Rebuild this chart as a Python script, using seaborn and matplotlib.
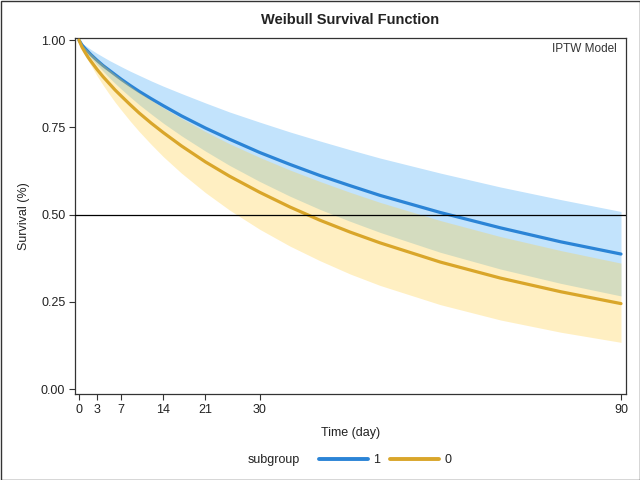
import matplotlib
matplotlib.use("Agg")
import matplotlib.pyplot as plt
import seaborn as sns
import pandas as pd
from matplotlib.lines import Line2D
from matplotlib.patches import Rectangle

# ---- data ----
times = [0, 0.5, 1, 1.5, 2, 3, 4, 5, 6, 7, 8.5, 10, 12, 14, 17, 21, 25, 30, 35, 40, 45, 50, 60, 70, 80, 90]
s1 = [1.000, 0.986, 0.976, 0.967, 0.958, 0.942, 0.927, 0.914, 0.901, 0.888, 0.870, 0.853, 0.832,
      0.812, 0.783, 0.748, 0.716, 0.678, 0.644, 0.612, 0.583, 0.555, 0.506, 0.462, 0.422, 0.387]
s1_lo = [1.000, 0.984, 0.972, 0.960, 0.949, 0.929, 0.911, 0.893, 0.876, 0.860, 0.837, 0.815, 0.788,
         0.762, 0.726, 0.682, 0.641, 0.595, 0.553, 0.515, 0.481, 0.449, 0.392, 0.344, 0.303, 0.267]
s1_hi = [1.000, 0.991, 0.985, 0.979, 0.973, 0.962, 0.952, 0.942, 0.933, 0.924, 0.911, 0.899, 0.883,
         0.868, 0.847, 0.820, 0.794, 0.765, 0.737, 0.711, 0.686, 0.662, 0.619, 0.579, 0.543, 0.509]
s0 = [1.000, 0.980, 0.965, 0.951, 0.939, 0.916, 0.895, 0.876, 0.857, 0.840, 0.815, 0.791, 0.762,
      0.735, 0.697, 0.651, 0.610, 0.564, 0.522, 0.484, 0.450, 0.419, 0.364, 0.318, 0.279, 0.245]
s0_lo = [1.000, 0.977, 0.959, 0.942, 0.927, 0.898, 0.871, 0.846, 0.822, 0.800, 0.768, 0.738, 0.701,
         0.666, 0.619, 0.563, 0.513, 0.458, 0.410, 0.368, 0.330, 0.297, 0.242, 0.198, 0.163, 0.134]
s0_hi = [1.000, 0.987, 0.978, 0.970, 0.961, 0.945, 0.930, 0.916, 0.902, 0.889, 0.869, 0.850, 0.828,
         0.806, 0.776, 0.738, 0.703, 0.664, 0.628, 0.595, 0.564, 0.535, 0.483, 0.437, 0.397, 0.361]

groups = ["1", "0"]
x_ticks = [0, 3, 7, 14, 21, 30, 90]
y_ticks = [0.00, 0.25, 0.50, 0.75, 1.00]
y_tick_labels = ["0.00", "0.25", "0.50", "0.75", "1.00"]
title = "Weibull Survival Function"
inset_text = "IPTW Model"
x_label = "Time (day)"
y_label = "Survival (%)"
legend_title = "subgroup"

df = pd.concat([
    pd.DataFrame({"time": times, "surv": s1, "lo": s1_lo, "hi": s1_hi, "subgroup": "1"}),
    pd.DataFrame({"time": times, "surv": s0, "lo": s0_lo, "hi": s0_hi, "subgroup": "0"}),
], ignore_index=True)

sns.set_style("ticks")
plt.rcParams["font.family"] = ["Liberation Sans", "DejaVu Sans"]

line_colors = {"1": "#2B84D6", "0": "#D9A62A"}
band_style = {"1": dict(color="#C2E3FC", alpha=1.0), "0": dict(color="#FFCE3A", alpha=0.31)}

fig = plt.figure(figsize=(6.4, 4.8), dpi=100)
ax = fig.add_axes([75 / 640, 1 - 394 / 480, 551 / 640, 356 / 480])

for g in groups:
    sub = df[df["subgroup"] == g]
    ax.fill_between(sub["time"], sub["lo"], sub["hi"], linewidth=0, zorder=1 if g == "1" else 3,
                    **band_style[g])
    sns.lineplot(data=sub, x="time", y="surv", color=line_colors[g], linewidth=2.3,
                 ax=ax, legend=False, zorder=2 if g == "1" else 4)

ax.axhline(0.5, color="black", linewidth=0.9, zorder=5)

ax.set_xlim(-0.66, 90.83)
ax.set_ylim(-0.014, 1.006)
ax.set_xticks(x_ticks)
ax.set_yticks(y_ticks)
ax.set_yticklabels(y_tick_labels)
ax.tick_params(axis="both", direction="out", length=4.5, width=0.8, color="#333333",
               labelsize=9, labelcolor="#222222", pad=2.5)
for sp in ax.spines.values():
    sp.set_color("#333333")
    sp.set_linewidth(0.9)

ax.set_xlabel(x_label, fontsize=9, color="#222222", labelpad=8)
ax.set_ylabel(y_label, fontsize=9, color="#222222", labelpad=8)

ax.text(0.984, 0.969, inset_text, transform=ax.transAxes, ha="right", va="center",
        fontsize=8.5, color="#333333")

fig.text(350 / 640, 1 - 20 / 480, title, ha="center", va="center", fontsize=10.5,
         fontweight="bold", color="#222222")

# legend
fig.text(248 / 640, 1 - 460 / 480, legend_title, ha="left", va="center", fontsize=9, color="#222222")
handles = [Line2D([], [], color=line_colors[g], linewidth=2.8) for g in groups]
leg = fig.legend(handles, groups, loc="center left", bbox_to_anchor=(319 / 640, 1 - 460 / 480),
                 bbox_transform=fig.transFigure, ncol=2, frameon=False, fontsize=9,
                 handlelength=3.9, handletextpad=0.45, columnspacing=0.8,
                 borderpad=0, borderaxespad=0)
for t in leg.get_texts():
    t.set_color("#222222")

fig.patches.append(Rectangle((0.5 / 640, 0.5 / 480), 639 / 640, 479 / 480, transform=fig.transFigure,
                             fill=False, edgecolor="#333333", linewidth=1.0))

fig.savefig("out.png", dpi=100)
